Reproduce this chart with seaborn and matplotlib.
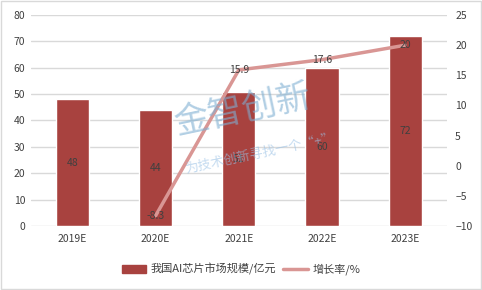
import matplotlib
matplotlib.use("Agg")
import matplotlib.pyplot as plt
import seaborn as sns
import pandas as pd
from matplotlib.patches import Rectangle
from matplotlib.lines import Line2D

categories = ["2019E", "2020E", "2021E", "2022E", "2023E"]
market_size = [48, 44, 51, 60, 72]
growth_cats = ["2020E", "2021E", "2022E", "2023E"]
growth_rate = [-8.3, 15.9, 17.6, 20]
left_ticks = [0, 10, 20, 30, 40, 50, 60, 70, 80]
right_ticks = [-10, -5, 0, 5, 10, 15, 20, 25]

sns.set_theme(style="white")
plt.rcParams["font.family"] = ["Noto Sans CJK SC", "DejaVu Sans"]

bar_color = "#A8423F"
line_color = "#D99694"
text_color = "#404040"
grid_color = "#D9D9D9"

fig = plt.figure(figsize=(4.82, 2.9), dpi=100)
ax = fig.add_axes([0.064, 0.221, 0.863, 0.727])

df = pd.DataFrame({"cat": categories, "val": market_size})
sns.barplot(data=df, x="cat", y="val", color=bar_color, width=0.4, ax=ax,
            saturation=1, zorder=2)
ax.set_ylim(0, 80)
ax.set_yticks(left_ticks)
ax.set_xlim(-0.5, len(categories) - 0.5)
ax.set_xlabel("")
ax.set_ylabel("")
for s in ax.spines.values():
    s.set_visible(False)
ax.grid(axis="y", color=grid_color, linewidth=1, zorder=0)
ax.set_axisbelow(True)
ax.tick_params(axis="both", length=0, labelsize=7.5, colors=text_color, pad=4)
ax.tick_params(axis="x", pad=6)

for i, v in enumerate(market_size):
    ax.text(i, v / 2, str(v), ha="center", va="center", fontsize=7.5,
            color=text_color, zorder=5)

# watermark
fig.text(0.505, 0.62, "金智创新", fontsize=25, color="#7FAFD2", alpha=0.6,
         rotation=12, ha="center", va="center", zorder=0)
fig.text(0.54, 0.47, "为技术创新寻找一个“+”", fontsize=9.5, color="#9DC3E6", alpha=0.6,
         rotation=12, ha="center", va="center", zorder=0)

ax2 = ax.twinx()
gx = [categories.index(c) for c in growth_cats]
gdf = pd.DataFrame({"x": gx, "g": growth_rate})
sns.lineplot(data=gdf, x="x", y="g", color=line_color, linewidth=2.5, ax=ax2,
             zorder=3)
ax2.set_ylim(-10, 25)
ax2.set_yticks(right_ticks)
ax2.set_xlim(-0.5, len(categories) - 0.5)
ax2.set_ylabel("")
ax2.set_xlabel("")
for s in ax2.spines.values():
    s.set_visible(False)
ax2.tick_params(axis="y", length=0, labelsize=7.5, colors=text_color, pad=6)
for x, g in zip(gx, growth_rate):
    ax2.text(x, g, f"{g:g}", ha="center", va="center", fontsize=7.5,
             color=text_color, zorder=5)

handles = [Rectangle((0, 0), 1, 1, color=bar_color),
           Line2D([0], [0], color=line_color, linewidth=2.5)]
fig.legend(handles, ["我国AI芯片市场规模/亿元", "增长率/%"], loc="center",
           bbox_to_anchor=(0.5, 0.072), ncol=2, frameon=False, fontsize=8,
           labelcolor=text_color, handlelength=2.2, columnspacing=0.6,
           handletextpad=0.4)

fig.patches.append(Rectangle((0.002, 0.003), 0.995, 0.994, transform=fig.transFigure,
                             fill=False, edgecolor="#D9D9D9", linewidth=1))

fig.savefig("out.png", dpi=100)
